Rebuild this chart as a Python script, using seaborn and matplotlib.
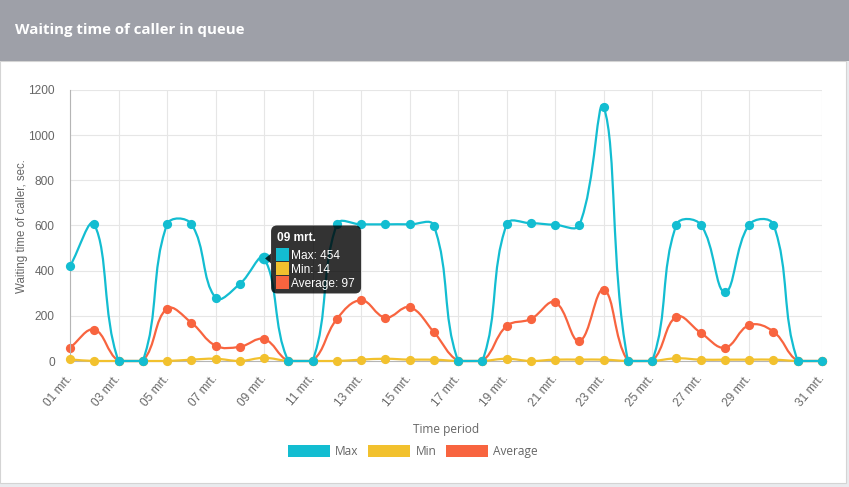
import matplotlib
matplotlib.use("Agg")
import matplotlib.pyplot as plt
import numpy as np
import pandas as pd
import seaborn as sns
from matplotlib.patches import PathPatch, Patch, Rectangle, FancyBboxPatch, Polygon
from matplotlib.path import Path
from matplotlib.transforms import IdentityTransform

# time slots (the export lists 31 mrt. twice)
labels = ["%02d mrt." % d for d in range(1, 32)] + ["31 mrt."]
tick_idx = list(range(0, 30, 2)) + [31]

max_wait = [420, 605, 0, 0, 605, 607, 280, 341, 454, 0, 0, 605, 605, 605, 605, 599,
            0, 0, 605, 610, 603, 603, 1125, 0, 0, 604, 604, 305, 604, 604, 0, 0]
min_wait = [7, 0, 0, 0, 0, 6, 10, 0, 14, 0, 0, 0, 6, 10, 6, 6,
            0, 0, 10, 0, 6, 6, 6, 0, 0, 12, 6, 6, 6, 6, 0, 0]
avg_wait = [59, 139, 0, 0, 232, 170, 68, 63, 97, 0, 0, 186, 269, 192, 238, 128,
            0, 0, 155, 186, 260, 88, 316, 0, 0, 196, 125, 59, 159, 130, 0, 0]

series = ["Max", "Min", "Average"]
colors = {"Max": "#13bdd1", "Min": "#f2c12e", "Average": "#f8643f"}
hover = 8  # tooltip shown for 09 mrt.

sns.set_theme(style="white")
plt.rcParams["font.family"] = ["Liberation Sans", "DejaVu Sans"]

W, H = 849, 487
fig = plt.figure(figsize=(W / 100, H / 100), dpi=100, facecolor="#e9ebee")
px = IdentityTransform()

# card and header bar
fig.add_artist(Rectangle((0, H - 483), 846, 483 - 61, transform=px, fc="white",
                         ec="#d4d4d4", lw=0.8, zorder=-2))
fig.add_artist(Rectangle((0, H - 61), W, 61, transform=px, fc="#9ea0a8", ec="none", zorder=-1))
fig.text(15, H - 30, "Waiting time of caller in queue", transform=px, color="white",
         fontsize=10.8, fontweight="bold", family=["Open Sans", "DejaVu Sans"], va="center")

ax = fig.add_axes([70 / W, (H - 361) / H, (822 - 70) / W, (361 - 90) / H])
ax.set_facecolor("none")
ax.set_xlim(0, 31)
ax.set_ylim(0, 1200)
ax.set_yticks(range(0, 1201, 200))
ax.set_xticks(tick_idx)
ax.set_xticklabels([labels[i] for i in tick_idx], rotation=50, ha="right",
                   va="center", rotation_mode="anchor")
ax.grid(True, color="#e6e6e6", lw=0.8)
ax.tick_params(length=8, width=0.8, color="#e6e6e6", labelcolor="#666666",
               labelsize=8.6, pad=3)
for s in ["top", "right"]:
    ax.spines[s].set_visible(False)
for s in ["left", "bottom"]:
    ax.spines[s].set_color("#b5b5b5")
    ax.spines[s].set_linewidth(0.8)


def spline_path(xs, ys, tension=0.4):
    # same bezier control points as a Chart.js line with lineTension 0.4
    pts = ax.transData.transform(np.column_stack([xs, ys]))
    x0, y0, x1, y1 = ax.bbox.extents
    n = len(pts)
    ctrl = []
    for i in range(n):
        prev, cur, nxt = pts[max(i - 1, 0)], pts[i], pts[min(i + 1, n - 1)]
        d01 = np.hypot(*(cur - prev))
        d12 = np.hypot(*(nxt - cur))
        tot = d01 + d12
        fa = tension * (d01 / tot if tot else 0)
        fb = tension * (d12 / tot if tot else 0)
        cp = cur - fa * (nxt - prev)
        cn = cur + fb * (nxt - prev)
        cp = np.clip(cp, [x0, y0], [x1, y1])
        cn = np.clip(cn, [x0, y0], [x1, y1])
        ctrl.append((cp, cn))
    verts = [pts[0]]
    codes = [Path.MOVETO]
    for i in range(1, n):
        verts += [ctrl[i - 1][1], ctrl[i][0], pts[i]]
        codes += [Path.CURVE4] * 3
    verts = ax.transData.inverted().transform(np.array(verts))
    return Path(verts, codes)


df = pd.DataFrame({"slot": list(range(len(labels))) * 3,
                   "series": np.repeat(series, len(labels)),
                   "value": max_wait + min_wait + avg_wait})

zorders = {"Average": 2, "Min": 3, "Max": 4}
for name in ["Average", "Min", "Max"]:
    sub = df[df["series"] == name]
    ax.add_patch(PathPatch(spline_path(sub["slot"].values, sub["value"].values),
                           fc="none", ec=colors[name], lw=1.6, zorder=zorders[name],
                           clip_on=False))
    sns.scatterplot(data=sub, x="slot", y="value", color=colors[name], s=44,
                    linewidth=0, ax=ax, zorder=zorders[name] + 0.1, clip_on=False,
                    legend=False)
sns.scatterplot(x=[hover], y=[max_wait[hover]], color=colors["Max"], s=70, linewidth=0,
                ax=ax, zorder=4.2, clip_on=False, legend=False)
ax.set_xlabel("")
ax.set_ylabel("")

fig.text(22, H - 226, "Waiting time of caller, sec.", transform=px, rotation=90,
         color="#666666", fontsize=8.3, ha="center", va="center")
fig.text(446, H - 430, "Time period", transform=px, color="#666666", fontsize=8.6,
         family=["Open Sans", "DejaVu Sans"], ha="center", va="center")

handles = [Patch(fc=colors[n], ec="none", label=n) for n in series]
fig.legend(handles=handles, loc="center", bbox_to_anchor=(413 / W, (H - 451.5) / H),
           ncol=3, frameon=False, fontsize=8.6, handlelength=3.5, handleheight=1.08,
           handletextpad=0.46, columnspacing=0.8, borderpad=0, labelcolor="#666666",
           prop={"family": ["Open Sans", "DejaVu Sans"], "size": 8.6})

# tooltip for the hovered slot
hx, hy = ax.transData.transform((hover, max_wait[hover]))
bx, btop = hx + 7, hy + 33
fig.add_artist(FancyBboxPatch((bx, btop - 68), 90, 68, boxstyle="round,pad=0,rounding_size=6",
                              transform=px, fc=(0, 0, 0, 0.8), ec="none", zorder=5))
fig.add_artist(Polygon([(bx, hy + 5), (bx - 6, hy), (bx, hy - 5)], closed=True,
                       transform=px, fc=(0, 0, 0, 0.8), ec="none", zorder=5))
fig.text(bx + 6, btop - 16, labels[hover], transform=px, color="white", fontsize=8.6,
         fontweight="bold", va="baseline", zorder=6)
rows = [("Max", max_wait[hover]), ("Min", min_wait[hover]), ("Average", avg_wait[hover])]
for k, (name, val) in enumerate(rows):
    top = btop - 23 - k * 14
    fig.add_artist(Rectangle((bx + 5, top - 13), 13, 13, transform=px, fc=colors[name],
                             ec="none", zorder=6))
    fig.text(bx + 20, top - 10.5, "%s: %d" % (name, val), transform=px, color="white",
             fontsize=8.6, va="baseline", zorder=6)

fig.savefig("out.png", dpi=100, facecolor=fig.get_facecolor())
